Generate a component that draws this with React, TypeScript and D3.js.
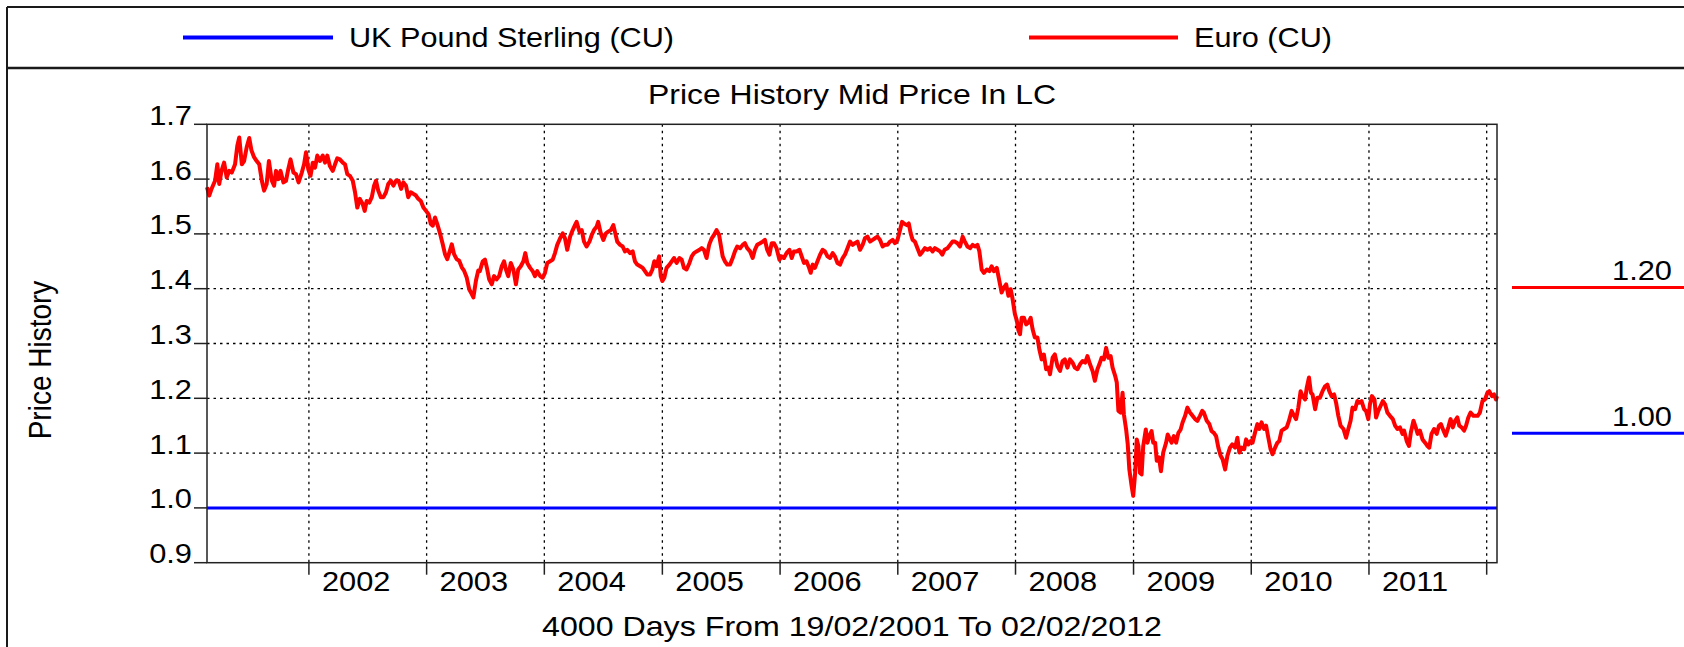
import React from "react";
import * as d3 from "d3";

// ---------------- data ----------------
const startDate = new Date(2001, 1, 19);
const endDate = new Date(2012, 1, 2);
const seriesNames = ["UK Pound Sterling (CU)", "Euro (CU)"];
const seriesColors = ["#0000ff", "#ff0000"];
const chartTitle = "Price History Mid Price In LC";
const yAxisTitle = "Price History";
const xAxisTitle = "4000 Days From 19/02/2001 To 02/02/2012";
const yTicks = [0.9, 1.0, 1.1, 1.2, 1.3, 1.4, 1.5, 1.6, 1.7];
const yearTicks = [2002, 2003, 2004, 2005, 2006, 2007, 2008, 2009, 2010, 2011, 2012];
const yearLabels = ["2002", "2003", "2004", "2005", "2006", "2007", "2008", "2009", "2010", "2011"];
const gbpValue = 1.0;

// days since 19/02/2001
const euroDays = [
  0, 7, 14, 25, 32, 38, 45, 53, 61, 69, 77, 87, 94, 100, 108, 115, 123, 131, 138, 146,
  154, 162, 170, 177, 185, 192, 201, 208, 214, 221, 228, 237, 245, 252, 259, 268, 276, 284, 294, 301,
  307, 314, 321, 328, 335, 342, 350, 359, 366, 373, 381, 390, 397, 404, 412, 421, 428, 435, 443, 452,
  459, 466, 474, 483, 489, 495, 503, 511, 518, 524, 531, 539, 547, 555, 562, 570, 578, 586, 594, 602,
  609, 617, 624, 632, 640, 648, 655, 663, 671, 679, 687, 694, 700, 707, 714, 723, 731, 738, 745, 753,
  759, 766, 774, 782, 790, 797, 805, 813, 821, 826, 834, 841,
  846, 855, 862, 869, 875, 883, 890, 898, 906, 914, 921, 927, 934, 942, 950, 958, 965, 973, 981, 987,
  993, 1002, 1010, 1017, 1024, 1033, 1041, 1048, 1055, 1064, 1072, 1079, 1086, 1095, 1103, 1110, 1117, 1126, 1134, 1141,
  1146, 1155, 1162, 1169, 1177, 1186, 1193, 1200, 1208, 1213, 1221, 1229, 1237, 1244, 1252, 1260, 1266, 1272, 1281, 1289,
  1296, 1303, 1312, 1320, 1327, 1334, 1343, 1351, 1358, 1365, 1374, 1381, 1387, 1394, 1402, 1407, 1412, 1418, 1425, 1434,
  1441, 1448, 1456, 1465, 1472, 1479, 1487, 1496, 1503, 1510, 1518, 1527, 1534, 1541, 1549, 1557, 1565, 1572, 1580, 1588,
  1593, 1599, 1606, 1613, 1622, 1630, 1637, 1644, 1653, 1661, 1668, 1675, 1684,
  1692, 1699, 1706, 1715, 1723, 1730, 1737, 1744, 1751, 1758, 1766, 1775, 1782, 1789, 1797, 1806, 1813, 1820, 1828, 1837,
  1844, 1851, 1859, 1867, 1872, 1878, 1885, 1893, 1901, 1909, 1916, 1924, 1932, 1940, 1947, 1955, 1963, 1971, 1978, 1986,
  1994, 2002, 2009, 2017, 2025, 2033, 2040, 2048, 2056, 2064, 2071, 2079, 2087, 2095, 2102, 2110, 2118, 2126, 2133, 2141,
  2149, 2155, 2161, 2170, 2176, 2182, 2188, 2195, 2203, 2211, 2219, 2226, 2234, 2242, 2250, 2257, 2265, 2273, 2280, 2287,
  2296, 2304, 2312, 2319, 2327, 2335, 2343, 2350, 2358, 2366, 2374, 2381, 2389, 2395, 2402, 2409, 2418, 2426, 2433, 2440,
  2449, 2457, 2464, 2471, 2478, 2485, 2492, 2498, 2505, 2511, 2516,
  2521, 2526, 2533, 2540, 2547, 2554, 2560, 2567, 2575, 2581, 2588, 2595, 2602, 2609, 2614, 2622, 2629, 2637, 2645, 2653,
  2660, 2668, 2676, 2684, 2691, 2699, 2707, 2715, 2723, 2730, 2738, 2746, 2753, 2761, 2767, 2774, 2781, 2788, 2795, 2802,
  2808, 2816, 2821, 2826, 2833, 2839, 2843, 2850, 2855, 2860, 2867, 2872, 2878, 2883, 2888, 2893, 2898, 2903, 2911, 2916,
  2922, 2929, 2934, 2940, 2945, 2952, 2958, 2965, 2974, 2979, 2986, 2991, 2998, 3005, 3012, 3019, 3025, 3033, 3040, 3048,
  3056, 3064, 3071, 3079, 3086, 3091, 3100, 3108, 3115, 3122, 3129, 3136, 3143, 3149, 3157, 3164, 3172, 3179, 3188, 3195,
  3201, 3208, 3216, 3222, 3229,
  3236, 3242, 3250, 3257, 3263, 3270, 3278, 3284, 3291, 3298, 3304, 3312, 3319, 3325, 3332, 3340, 3348, 3355, 3363, 3371,
  3377, 3384, 3391, 3397, 3405, 3410, 3417, 3423, 3428, 3436, 3443, 3451, 3459, 3467, 3474, 3480, 3487, 3495, 3501, 3508,
  3515, 3524, 3532, 3539, 3546, 3552, 3560, 3567, 3573, 3580, 3588, 3594, 3601, 3606, 3612, 3620, 3625, 3632, 3639, 3646,
  3653, 3660, 3668, 3677, 3684, 3691, 3699, 3707, 3712, 3720, 3727, 3733, 3741, 3748, 3754, 3761, 3769, 3777, 3784, 3790,
  3797, 3805, 3813, 3820, 3826, 3834, 3841, 3849, 3856, 3863, 3870, 3877, 3883, 3890, 3898, 3904, 3911, 3918, 3927, 3934,
  3940, 3947, 3955, 3963, 3970, 3976, 3984, 3991, 3997, 4000,
];

const euroValues = [
  1.585, 1.570, 1.582, 1.597, 1.627, 1.591, 1.615, 1.630, 1.603, 1.615, 1.612, 1.627, 1.661, 1.676, 1.627, 1.633, 1.658, 1.675, 1.652, 1.640,
  1.633, 1.627, 1.597, 1.579, 1.591, 1.633, 1.597, 1.588, 1.615, 1.600, 1.615, 1.594, 1.597, 1.618, 1.636, 1.612, 1.609, 1.594, 1.612, 1.627,
  1.649, 1.618, 1.606, 1.630, 1.621, 1.643, 1.633, 1.643, 1.630, 1.643, 1.624, 1.615, 1.627, 1.638, 1.636, 1.630, 1.627, 1.609, 1.606, 1.597,
  1.576, 1.548, 1.564, 1.554, 1.542, 1.560, 1.557, 1.567, 1.588, 1.597, 1.579, 1.567, 1.567, 1.576, 1.591, 1.597, 1.588, 1.597, 1.597, 1.582,
  1.594, 1.588, 1.567, 1.576, 1.573, 1.570, 1.564, 1.560, 1.548, 1.542, 1.536, 1.518, 1.515, 1.530, 1.518, 1.500, 1.481, 1.463, 1.454, 1.469,
  1.481, 1.463, 1.454, 1.451, 1.439, 1.433, 1.421, 1.399, 1.390, 1.384, 1.415, 1.433,
  1.432, 1.450, 1.453, 1.435, 1.417, 1.408, 1.423, 1.417, 1.423, 1.441, 1.450, 1.435, 1.423, 1.447, 1.435, 1.408, 1.435, 1.441, 1.450, 1.465,
  1.447, 1.438, 1.432, 1.423, 1.432, 1.423, 1.420, 1.429, 1.447, 1.450, 1.453, 1.465, 1.480, 1.492, 1.501, 1.492, 1.471, 1.495, 1.507, 1.516,
  1.522, 1.504, 1.507, 1.486, 1.477, 1.486, 1.498, 1.507, 1.513, 1.522, 1.501, 1.489, 1.501, 1.504, 1.507, 1.516, 1.501, 1.486, 1.480, 1.477,
  1.468, 1.471, 1.465, 1.468, 1.450, 1.444, 1.441, 1.438, 1.432, 1.426, 1.426, 1.435, 1.450, 1.441, 1.459, 1.423, 1.414, 1.420, 1.438, 1.444,
  1.450, 1.456, 1.447, 1.456, 1.453, 1.438, 1.435, 1.447, 1.459, 1.465, 1.468, 1.471, 1.474, 1.471, 1.456, 1.480, 1.492, 1.498, 1.507, 1.498,
  1.480, 1.459, 1.450, 1.444, 1.444, 1.456, 1.468, 1.477, 1.474, 1.480, 1.483, 1.474, 1.468,
  1.456, 1.471, 1.480, 1.483, 1.486, 1.489, 1.471, 1.462, 1.483, 1.483, 1.474, 1.453, 1.459, 1.456, 1.465, 1.471, 1.456, 1.468, 1.468, 1.471,
  1.459, 1.447, 1.450, 1.438, 1.429, 1.444, 1.438, 1.450, 1.462, 1.471, 1.468, 1.459, 1.456, 1.465, 1.459, 1.447, 1.444, 1.456, 1.462, 1.474,
  1.486, 1.480, 1.483, 1.486, 1.471, 1.480, 1.492, 1.495, 1.486, 1.489, 1.492, 1.495, 1.489, 1.477, 1.480, 1.480, 1.486, 1.489, 1.483, 1.489,
  1.507, 1.522, 1.519, 1.516, 1.519, 1.501, 1.489, 1.486, 1.474, 1.462, 1.468, 1.474, 1.471, 1.474, 1.468, 1.474, 1.471, 1.468, 1.462, 1.471,
  1.474, 1.480, 1.486, 1.486, 1.483, 1.477, 1.495, 1.486, 1.477, 1.474, 1.480, 1.477, 1.480, 1.468, 1.435, 1.429, 1.435, 1.432, 1.441, 1.432,
  1.438, 1.414, 1.393, 1.402, 1.408, 1.387, 1.399, 1.381, 1.354, 1.342, 1.324,
  1.317, 1.347, 1.347, 1.335, 1.338, 1.347, 1.326, 1.311, 1.311, 1.289, 1.271, 1.280, 1.253, 1.256, 1.244, 1.274, 1.280, 1.259, 1.250, 1.268,
  1.271, 1.256, 1.271, 1.265, 1.256, 1.253, 1.262, 1.268, 1.265, 1.277, 1.262, 1.250, 1.232, 1.253, 1.262, 1.274, 1.271, 1.292, 1.274, 1.277,
  1.256, 1.241, 1.229, 1.177, 1.174, 1.210, 1.171, 1.143, 1.116, 1.070, 1.040, 1.022, 1.064, 1.125, 1.113, 1.064, 1.061, 1.113, 1.143, 1.119,
  1.131, 1.140, 1.119, 1.119, 1.086, 1.092, 1.067, 1.101, 1.119, 1.134, 1.125, 1.119, 1.131, 1.119, 1.137, 1.143, 1.156, 1.168, 1.183, 1.174,
  1.168, 1.162, 1.159, 1.168, 1.177, 1.174, 1.159, 1.153, 1.140, 1.137, 1.131, 1.110, 1.095, 1.089, 1.070, 1.095, 1.110, 1.116, 1.110, 1.128,
  1.101, 1.110, 1.107, 1.125, 1.116,
  1.122, 1.119, 1.138, 1.153, 1.144, 1.156, 1.144, 1.150, 1.128, 1.107, 1.098, 1.110, 1.119, 1.122, 1.141, 1.144, 1.147, 1.159, 1.177, 1.168,
  1.162, 1.183, 1.213, 1.204, 1.198, 1.219, 1.238, 1.210, 1.207, 1.180, 1.201, 1.201, 1.213, 1.222, 1.225, 1.213, 1.204, 1.207, 1.192, 1.168,
  1.150, 1.144, 1.128, 1.144, 1.159, 1.183, 1.180, 1.195, 1.192, 1.195, 1.180, 1.177, 1.162, 1.189, 1.204, 1.198, 1.165, 1.177, 1.186, 1.195,
  1.189, 1.174, 1.168, 1.162, 1.150, 1.144, 1.147, 1.135, 1.141, 1.122, 1.113, 1.138, 1.159, 1.147, 1.135, 1.141, 1.125, 1.119, 1.113, 1.110,
  1.135, 1.144, 1.135, 1.150, 1.153, 1.141, 1.132, 1.147, 1.162, 1.147, 1.159, 1.165, 1.150, 1.147, 1.141, 1.150, 1.165, 1.174, 1.168, 1.168,
  1.168, 1.174, 1.195, 1.198, 1.210, 1.213, 1.204, 1.207, 1.198, 1.204,
];

// ---------------- layout ----------------
const W = 1684;
const H = 647;
const plot = { left: 207, right: 1497, top: 124.3, bottom: 562.7 };
const FONT = "'Liberation Sans', Arial, Helvetica, sans-serif";
const SX = 1.1;
const FS = 28;

function T(props: {
  x: number;
  y: number;
  anchor?: "start" | "middle" | "end";
  size?: number;
  sx?: number;
  rotate?: boolean;
  len?: number;
  children: React.ReactNode;
}) {
  const { x, y, anchor = "start", size = FS, sx = SX, rotate = false, len, children } = props;
  if (len !== undefined) {
    const x0 = anchor === "middle" ? x - len / 2 : anchor === "end" ? x - len : x;
    return (
      <text
        x={x0}
        y={y}
        textLength={len}
        lengthAdjust="spacingAndGlyphs"
        fontSize={size}
        fontFamily={FONT}
        fill="#000"
      >
        {children}
      </text>
    );
  }
  const tr = rotate
    ? `translate(${x},${y}) rotate(-90) scale(1,${sx})`
    : `translate(${x},${y}) scale(${sx},1)`;
  return (
    <text transform={tr} textAnchor={anchor} fontSize={size} fontFamily={FONT} fill="#000">
      {children}
    </text>
  );
}

export default function App() {
  const x = d3.scaleTime().domain([startDate, endDate]).range([plot.left, plot.right]);
  const y = d3.scaleLinear().domain([0.9, 1.7]).range([plot.bottom, plot.top]);

  const euro = euroDays.map((d, i) => ({ date: d3.timeDay.offset(startDate, d), v: euroValues[i] }));
  const line = d3
    .line<{ date: Date; v: number }>()
    .x((d) => x(d.date))
    .y((d) => y(d.v));

  const gbp = [
    { date: startDate, v: gbpValue },
    { date: endDate, v: gbpValue },
  ];

  const yearX = yearTicks.map((yr) => x(new Date(yr, 0, 1)));
  const fmt1 = d3.format(".1f");
  const fmt2 = d3.format(".2f");
  const lastEuro = euroValues[euroValues.length - 1];

  const frameTop = 7;
  const frameLeft = 7;
  const sepY = 68;
  const legendY = 37.5;

  return (
    <svg
      width={W}
      height={H}
      viewBox={`0 0 ${W} ${H}`}
      style={{ position: "absolute", left: 0, top: 0, background: "#fff" }}
    >
      <rect x={0} y={0} width={W} height={H} fill="#fff" />
      {/* outer frame */}
      <line x1={frameLeft} x2={W} y1={frameTop} y2={frameTop} stroke="#1a1a1a" strokeWidth={2} />
      <line x1={frameLeft} x2={frameLeft} y1={frameTop} y2={H} stroke="#1a1a1a" strokeWidth={2} />
      <line x1={frameLeft} x2={W} y1={sepY} y2={sepY} stroke="#1a1a1a" strokeWidth={2.5} />

      {/* legend */}
      <line x1={183} x2={333} y1={legendY} y2={legendY} stroke={seriesColors[0]} strokeWidth={4} />
      <T x={349} y={47} len={325}>{seriesNames[0]}</T>
      <line x1={1029} x2={1178} y1={legendY} y2={legendY} stroke={seriesColors[1]} strokeWidth={4} />
      <T x={1194} y={47} len={138}>{seriesNames[1]}</T>

      {/* title */}
      <T x={(plot.left + plot.right) / 2} y={104} anchor="middle" len={408}>{chartTitle}</T>

      {/* grid */}
      {yTicks.slice(1, -1).map((t) => (
        <line key={"hg" + t} x1={plot.left} x2={plot.right} y1={y(t)} y2={y(t)} stroke="#000" strokeWidth={1.3} strokeDasharray="2.5,4" />
      ))}
      {yearX.map((xx, i) => (
        <line key={"vg" + i} x1={xx} x2={xx} y1={plot.top} y2={plot.bottom} stroke="#000" strokeWidth={1.3} strokeDasharray="2.5,4" />
      ))}

      {/* y ticks */}
      {yTicks.map((t) => (
        <g key={"yt" + t}>
          <line x1={194} x2={plot.left} y1={y(t)} y2={y(t)} stroke="#222" strokeWidth={1.5} />
          <T x={192} y={y(t) + 0.5} anchor="end">{fmt1(t)}</T>
        </g>
      ))}

      {/* x ticks */}
      {yearX.map((xx, i) => (
        <line key={"xt" + i} x1={xx} x2={xx} y1={plot.bottom} y2={plot.bottom + 12} stroke="#222" strokeWidth={1.5} />
      ))}
      {yearLabels.map((lab, i) => (
        <T key={"xl" + lab} x={yearX[i] + 13} y={591}>{lab}</T>
      ))}

      {/* axis titles */}
      <T x={(plot.left + plot.right) / 2} y={636} anchor="middle" len={620}>{xAxisTitle}</T>
      <T x={51} y={360} anchor="middle" rotate size={28} sx={1.1}>{yAxisTitle}</T>

      {/* series */}
      <path d={line(gbp) || ""} fill="none" stroke={seriesColors[0]} strokeWidth={3} />
      <path d={line(euro) || ""} fill="none" stroke={seriesColors[1]} strokeWidth={4} strokeLinejoin="round" />

      {/* plot frame */}
      <rect x={plot.left} y={plot.top} width={plot.right - plot.left} height={plot.bottom - plot.top} fill="none" stroke="#222" strokeWidth={1.5} />

      {/* last-value markers */}
      <line x1={1512} x2={W} y1={287.5} y2={287.5} stroke={seriesColors[1]} strokeWidth={3} />
      <T x={1672} y={280} anchor="end">{fmt2(lastEuro)}</T>
      <line x1={1512} x2={W} y1={433.3} y2={433.3} stroke={seriesColors[0]} strokeWidth={3} />
      <T x={1672} y={426} anchor="end">{fmt2(gbpValue)}</T>
    </svg>
  );
}
